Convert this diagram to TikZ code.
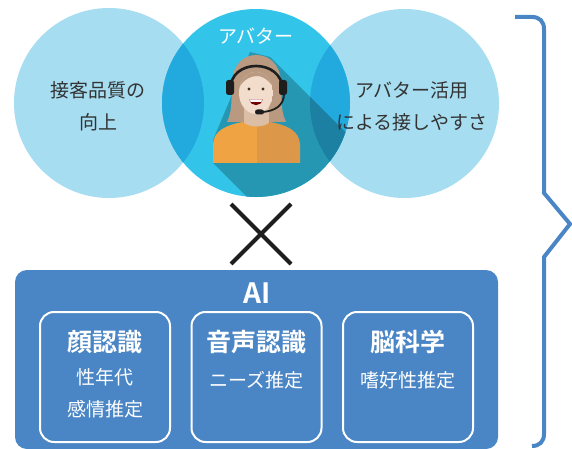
\documentclass[tikz,border=0pt]{standalone}
\usepackage{fontspec}
\setmainfont{Noto Sans CJK JP}[BoldFont={Noto Sans CJK JP Bold}]
\definecolor{lightcirc}{HTML}{A6DDF1}
\definecolor{maincirc}{HTML}{33C4E9}
\definecolor{overlapc}{HTML}{22A9DE}
\definecolor{shadowc}{HTML}{2697B2}
\definecolor{shadowdeep}{HTML}{1B80A2}
\definecolor{aiblue}{HTML}{4A86C5}
\definecolor{txtgray}{HTML}{333333}
\definecolor{hairc}{HTML}{B99A80}
\definecolor{skinc}{HTML}{F2DCCB}
\definecolor{neckc}{HTML}{DCBDA5}
\definecolor{shirtl}{HTML}{F0A343}
\definecolor{shirtr}{HTML}{DC9848}
\definecolor{setc}{HTML}{1E1E1E}
\tikzset{
  circtext/.style={text=txtgray, font=\fontsize{19}{32}\selectfont, align=center, inner sep=0pt},
  techbox/.style={draw=white, line width=2pt, rounded corners=14pt, minimum width=130pt, minimum height=130pt, inner sep=0pt},
  techtitle/.style={text=white, font=\fontsize{25}{30}\selectfont\bfseries, inner sep=0pt},
  techsub/.style={text=white, font=\fontsize{19}{32}\selectfont, align=center, inner sep=0pt},
  crossline/.style={draw=setc, line width=4pt},
  bracketline/.style={draw=aiblue, line width=4pt, line join=miter}
}
\begin{document}
\begin{tikzpicture}[x=1pt, y=-1pt]
\useasboundingbox (0,0) rectangle (572,449);

% three circles
\fill[lightcirc] (109,103) circle[radius=95pt];
\fill[lightcirc] (404.5,103.5) circle[radius=94.5pt];
\fill[maincirc] (256,103) circle[radius=94pt];
% overlaps of the side circles with the central one
\begin{scope}
  \clip (256,103) circle[radius=94pt];
  \fill[overlapc] (109,103) circle[radius=95pt];
  \fill[overlapc] (404.5,103.5) circle[radius=94.5pt];
  % long shadow of the figure
  \fill[shadowc] (250,52) -- (270,57) -- (470,257) -- (413,363) -- (213,163) -- (213,140) -- cycle;
  \clip (404.5,103.5) circle[radius=94.5pt];
  \fill[shadowdeep] (250,52) -- (270,57) -- (470,257) -- (413,363) -- (213,163) -- (213,140) -- cycle;
\end{scope}

% operator figure
\fill[hairc] (227,122) .. controls (233,110) and (231,96) .. (232,82)
  .. controls (233,63) and (245,55) .. (256,55)
  .. controls (268,55) and (280,63) .. (281,82)
  .. controls (282,96) and (280,110) .. (286,122) -- cycle;
\fill[neckc] (244,100) rectangle (269,127);
\begin{scope}
  \clip (213,163) -- (213,145) .. controls (213,131) and (226,125) .. (243,122)
    .. controls (248,128) and (265,128) .. (270,122)
    .. controls (287,125) and (300,131) .. (300,145) -- (300,163) -- cycle;
  \fill[shirtl] (200,110) rectangle (256.5,170);
  \fill[shirtr] (256.5,110) rectangle (310,170);
\end{scope}
\begin{scope}
  \clip (256,93) ellipse[x radius=17pt, y radius=21pt];
  \fill[skinc] (256,93) ellipse[x radius=17pt, y radius=21pt];
  % fringe
  \fill[hairc] (236,95) .. controls (240,82) and (248,76) .. (258,76)
    .. controls (266,77) and (272,84) .. (276,92) -- (280,60) -- (232,60) -- cycle;
\end{scope}
% eyes and mouth
\fill[setc!80!brown] (249,89) circle[radius=1.7pt];
\fill[setc!80!brown] (263,89) circle[radius=1.7pt];
\fill[red!45!black] (249.5,99.5) .. controls (250.5,107) and (261.5,107) .. (262.5,99.5) -- cycle;
\fill[white] (250,99.5) -- (262,99.5) -- (261.5,101.8) -- (250.5,101.8) -- cycle;
% headset
\draw[setc, line width=2.6pt] (230.5,90) .. controls (229,58) and (283,58) .. (282.5,90);
\fill[setc, rounded corners=2.5pt] (226,80) rectangle (234,95);
\fill[setc, rounded corners=2.5pt] (279,80) rectangle (287,95);
\draw[setc, line width=1.8pt] (284,94) .. controls (284,106) and (274,111) .. (263,112);
\fill[setc, rounded corners=2.4pt] (255,109.5) rectangle (264,114.5);

% circle captions
\node[circtext] (quality) at (98,106) {接客品質の\\向上};
\node[text=white, font=\fontsize{19}{24}\selectfont, inner sep=0pt] (avatar) at (256,36) {アバター};
\node[circtext] (ease) at (412,106) {アバター活用\\による接しやすさ};

% multiplication sign
\coordinate (xa) at (231,204);
\coordinate (xb) at (291,264);
\coordinate (xc) at (291,204);
\coordinate (xd) at (231,264);
\draw[crossline] (xa) -- (xb);
\draw[crossline] (xc) -- (xd);

% AI panel
\fill[aiblue, rounded corners=12pt] (15,270) rectangle (498,449);
\node[text=white, font=\fontsize{28}{30}\selectfont\bfseries, inner sep=0pt] (ai) at (257,293) {AI};

\node[techbox] (face) at (105,377) {};
\node[techbox] (voice) at (256.5,377) {};
\node[techbox] (brain) at (408,377) {};

\node[techtitle] (facet) at (105,342) {顔認識};
\node[techsub, anchor=north] (faces) at (105,368) {性年代\\感情推定};
\node[techtitle] (voicet) at (256.5,342) {音声認識};
\node[techsub] (voices) at (256.5,380) {ニーズ推定};
\node[techtitle] (braint) at (408,342) {脳科学};
\node[techsub] (brains) at (408,380) {嗜好性推定};

% right-hand brace
\coordinate (bt) at (515,17);
\coordinate (bb) at (532,446);
\draw[bracketline] (bt) -- (532,17) .. controls (539.5,17) and (544,21.5) .. (544,29)
  -- (544,193) -- (570,224) -- (544,257) -- (544,434)
  .. controls (544,441.5) and (539.5,446) .. (bb);
\end{tikzpicture}
\end{document}
